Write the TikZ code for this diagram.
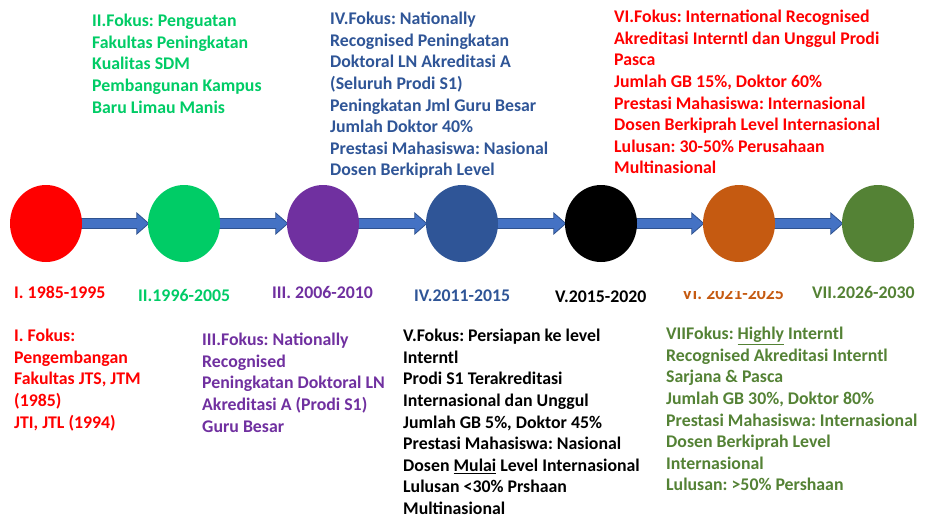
\documentclass[tikz,border=0pt]{standalone}
\usepackage{fontspec}
\setmainfont{Carlito}
\usetikzlibrary{calc,shapes.geometric}
\definecolor{cRed}{HTML}{FF0000}
\definecolor{cGreen}{HTML}{00CC66}
\definecolor{cPurple}{HTML}{7030A0}
\definecolor{cBlue}{HTML}{2F5597}
\definecolor{cOrange}{HTML}{C55A11}
\definecolor{cOlive}{HTML}{548235}
\definecolor{arrFill}{HTML}{4472C4}
\definecolor{arrLine}{HTML}{2F528F}
\tikzset{
  dot/.style={ellipse, minimum width=72pt, minimum height=77pt, inner sep=0pt, draw=none},
  txt/.style={anchor=north west, align=left, inner sep=0pt},
  yearlbl/.style={anchor=base west, inner sep=0pt},
  barrowstyle/.style={fill=arrFill, draw=arrLine, line width=0.8pt, line join=miter},
}
\newcommand\blockarr[2]{%
  \draw[barrowstyle] let \p1=(#1.east), \p2=(#2.west) in
    (\x1-2pt,\y1+5pt) -- (\x2-11pt,\y1+5pt) -- (\x2-11pt,\y1+10.5pt) -- (\x2+1pt,\y1) --
    (\x2-11pt,\y1-10.5pt) -- (\x2-11pt,\y1-5pt) -- (\x1-2pt,\y1-5pt) -- cycle;}
\begin{document}
\frenchspacing
\begin{tikzpicture}[x=1pt,y=-1pt,font=\bfseries\fontsize{17.8}{21.6}\selectfont\frenchspacing]
\useasboundingbox (0,0) rectangle (941,530);
\fill[white] (0,0) rectangle (941,530);

% circle positions (arrows drawn behind the filled circles)
\path (46,223.5) node[dot] (c1) {}
      (184,223.5) node[dot] (c2) {}
      (323,223.5) node[dot] (c3) {}
      (462,223.5) node[dot] (c4) {}
      (601,223.5) node[dot] (c5) {}
      (739,223.5) node[dot] (c6) {}
      (878,223.5) node[dot] (c7) {};
\blockarr{c1}{c2}
\blockarr{c2}{c3}
\blockarr{c3}{c4}
\blockarr{c4}{c5}
\blockarr{c5}{c6}
\blockarr{c6}{c7}
\node[dot, fill=cRed] at (c1) {};
\node[dot, fill=cGreen] at (c2) {};
\node[dot, fill=cPurple] at (c3) {};
\node[dot, fill=cBlue] at (c4) {};
\node[dot, fill=black] at (c5) {};
\node[dot, fill=cOrange] at (c6) {};
\node[dot, fill=cOlive] at (c7) {};

% year labels
\node[yearlbl, text=cRed] (y1) at (14,298) {I. 1985-1995};
\node[yearlbl, text=cGreen] (y2) at (138,301) {II.1996-2005};
\node[yearlbl, text=cPurple] (y3) at (272,298) {III. 2006-2010};
\node[yearlbl, text=cBlue] (y4) at (414,301) {IV.2011-2015};
\node[yearlbl, text=black] (y5) at (555,302) {V.2015-2020};
\begin{scope}
\clip (670,291) rectangle (800,312);
\node[yearlbl, text=cOrange] (y6) at (682,299.5) {VI. 2021-2025};
\end{scope}
\node[yearlbl, text=cOlive] (y7) at (812,298) {VII.2026-2030};

% top texts
\node[txt, text=cGreen] (t2) at (92,14) {II.Fokus: Penguatan\\Fakultas Peningkatan\\Kualitas SDM\\Pembangunan Kampus\\Baru Limau Manis};
\node[txt, text=cBlue] (t4) at (330,12) {IV.Fokus: Nationally\\Recognised Peningkatan\\Doktoral LN Akreditasi A\\(Seluruh Prodi S1)\\Peningkatan Jml Guru Besar\\Jumlah Doktor 40\%\\Prestasi Mahasiswa: Nasional\\Dosen Berkiprah Level};
\node[txt, text=cRed] (t6) at (614,10) {VI.Fokus: International Recognised\\Akreditasi Interntl dan Unggul Prodi\\Pasca\\Jumlah GB 15\%, Doktor 60\%\\Prestasi Mahasiswa: Internasional\\Dosen Berkiprah Level Internasional\\Lulusan: 30-50\% Perusahaan\\Multinasional};

% bottom texts
\node[txt, text=cRed] (t1) at (14,329) {I. Fokus:\\Pengembangan\\Fakultas JTS, JTM\\(1985)\\JTI, JTL (1994)};
\node[txt, text=cPurple] (t3) at (202,333) {III.Fokus: Nationally\\Recognised\\Peningkatan Doktoral LN\\Akreditasi A (Prodi S1)\\Guru Besar};
\node[txt, text=black] (t5) at (403,329) {V.Fokus: Persiapan ke level\\Interntl\\Prodi S1 Terakreditasi\\Internasional dan Unggul\\Jumlah GB 5\%, Doktor 45\%\\Prestasi Mahasiswa: Nasional\\Dosen \underline{Mulai} Level Internasional\\Lulusan <30\% Prshaan\\Multinasional};
\node[txt, text=cOlive] (t7) at (666,327) {VIIFokus: \underline{Highly} Interntl\\Recognised Akreditasi Interntl\\Sarjana \& Pasca\\Jumlah GB 30\%, Doktor 80\%\\Prestasi Mahasiswa: Internasional\\Dosen Berkiprah Level\\Internasional\\Lulusan: >50\% Pershaan};
\end{tikzpicture}
\end{document}
